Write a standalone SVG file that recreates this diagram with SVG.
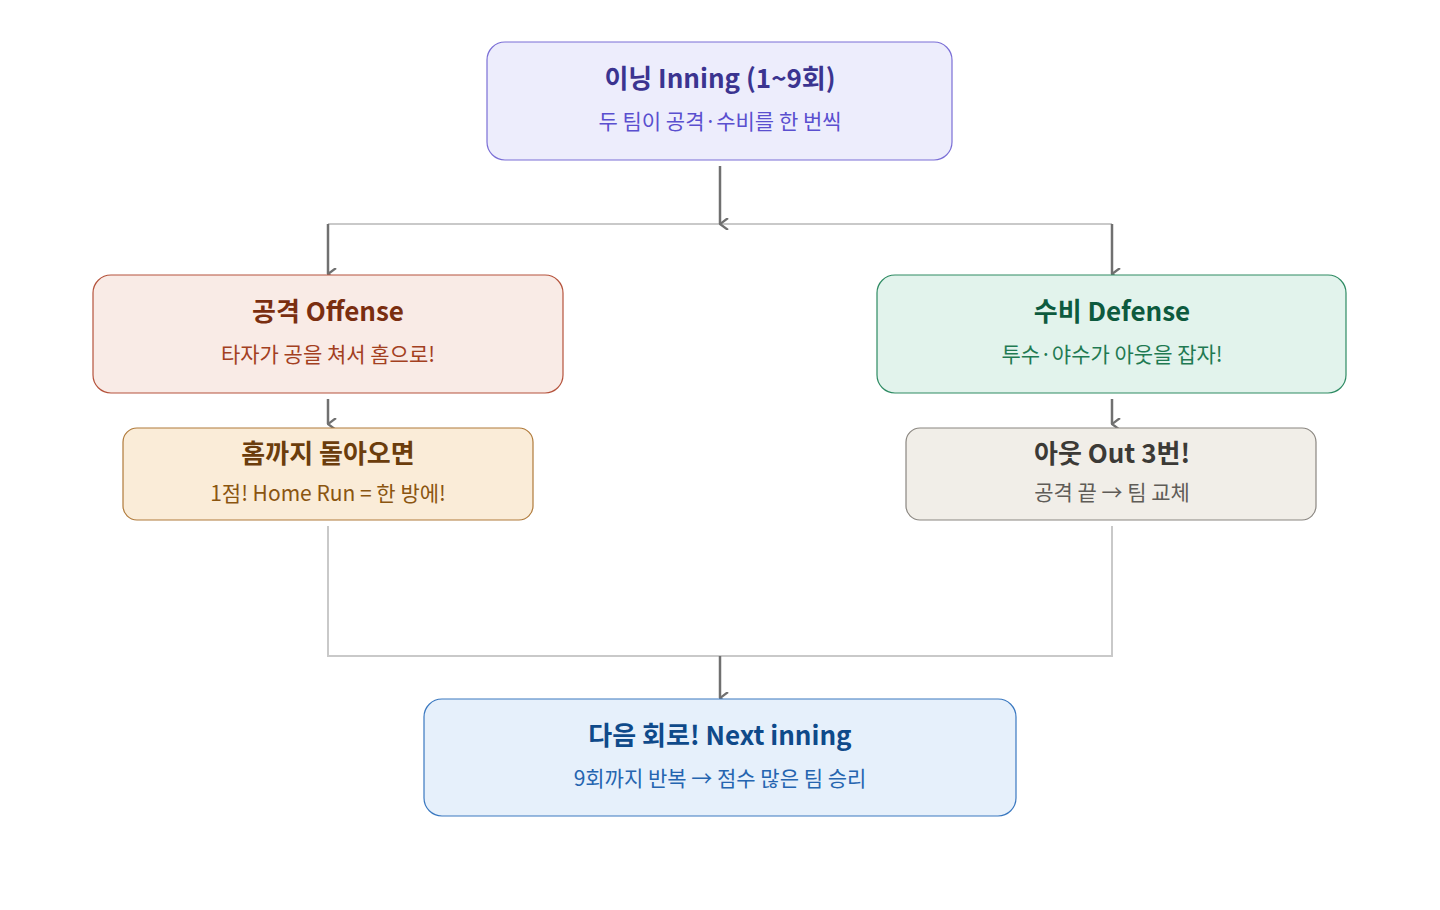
<svg xmlns="http://www.w3.org/2000/svg" width="1440" height="910" viewBox="0 0 1440 910">
<style>
text{font-family:"Noto Sans CJK KR","Noto Sans",sans-serif;text-anchor:middle}
.t{font-size:26px;font-weight:bold}
.s{font-size:21px}
.box{stroke-width:1.2}
.lt{stroke:#c9c9c9;stroke-width:2;fill:none}
.dk{stroke:#707070;stroke-width:2.5;fill:none}
</style>
<defs>
<marker id="a" viewBox="0 0 12 12" refX="6" refY="11" markerWidth="12" markerHeight="12" markerUnits="userSpaceOnUse" orient="auto-start-reverse">
<path d="M0,3 L6,11 L12,3" fill="none" stroke="#707070" stroke-width="2.2"/>
</marker>
</defs>
<rect width="1440" height="910" fill="#fff"/>
<g id="connectors">
<path class="lt" d="M328,224 H1112"/>
<path class="dk" d="M720,166 V224" marker-end="url(#a)"/>
<path class="dk" d="M328,224 V274" marker-end="url(#a)"/>
<path class="dk" d="M1112,224 V274" marker-end="url(#a)"/>
<path class="dk" d="M328,399 V424" marker-end="url(#a)"/>
<path class="dk" d="M1112,399 V424" marker-end="url(#a)"/>
<path class="lt" d="M328,526 V656 H1112 V526"/>
<path class="dk" d="M720,656 V698" marker-end="url(#a)"/>
</g>
<g id="inning">
<rect class="box" x="487" y="42" width="465" height="118" rx="18" fill="#ededfc" stroke="#7b6fd6"/>
<text class="t" x="720" y="88" fill="#3b3490">이닝 Inning (1~9회)</text>
<text class="s" x="720" y="129" fill="#5a4fcf">두 팀이 공격·수비를 한 번씩</text>
</g>
<g id="offense">
<rect class="box" x="93" y="275" width="470" height="118" rx="18" fill="#f9ebe6" stroke="#b5533c"/>
<text class="t" x="328" y="321" fill="#7a2e10">공격 Offense</text>
<text class="s" x="328" y="362" fill="#a3401f">타자가 공을 쳐서 홈으로!</text>
</g>
<g id="defense">
<rect class="box" x="877" y="275" width="469" height="118" rx="18" fill="#e2f3ec" stroke="#2e8b63"/>
<text class="t" x="1112" y="321" fill="#0d5a3e">수비 Defense</text>
<text class="s" x="1112" y="362" fill="#1f7a52">투수·야수가 아웃을 잡자!</text>
</g>
<g id="home">
<rect class="box" x="123" y="428" width="410" height="92" rx="14" fill="#faecd8" stroke="#b07a3a"/>
<text class="t" x="328" y="463" fill="#6b3d0c">홈까지 돌아오면</text>
<text class="s" x="328" y="501" fill="#8a5510">1점! Home Run = 한 방에!</text>
</g>
<g id="out">
<rect class="box" x="906" y="428" width="410" height="92" rx="14" fill="#f1eee8" stroke="#8a8680"/>
<text class="t" x="1112" y="463" fill="#3c3a36">아웃 Out 3번!</text>
<text class="s" x="1112" y="500" fill="#5f5c57">공격 끝 → 팀 교체</text>
</g>
<g id="next">
<rect class="box" x="424" y="699" width="592" height="117" rx="18" fill="#e6f0fb" stroke="#3a78c0"/>
<text class="t" x="720" y="745" fill="#0f4a8a">다음 회로! Next inning</text>
<text class="s" x="720" y="786" fill="#2565b0">9회까지 반복 → 점수 많은 팀 승리</text>
</g>
</svg>
